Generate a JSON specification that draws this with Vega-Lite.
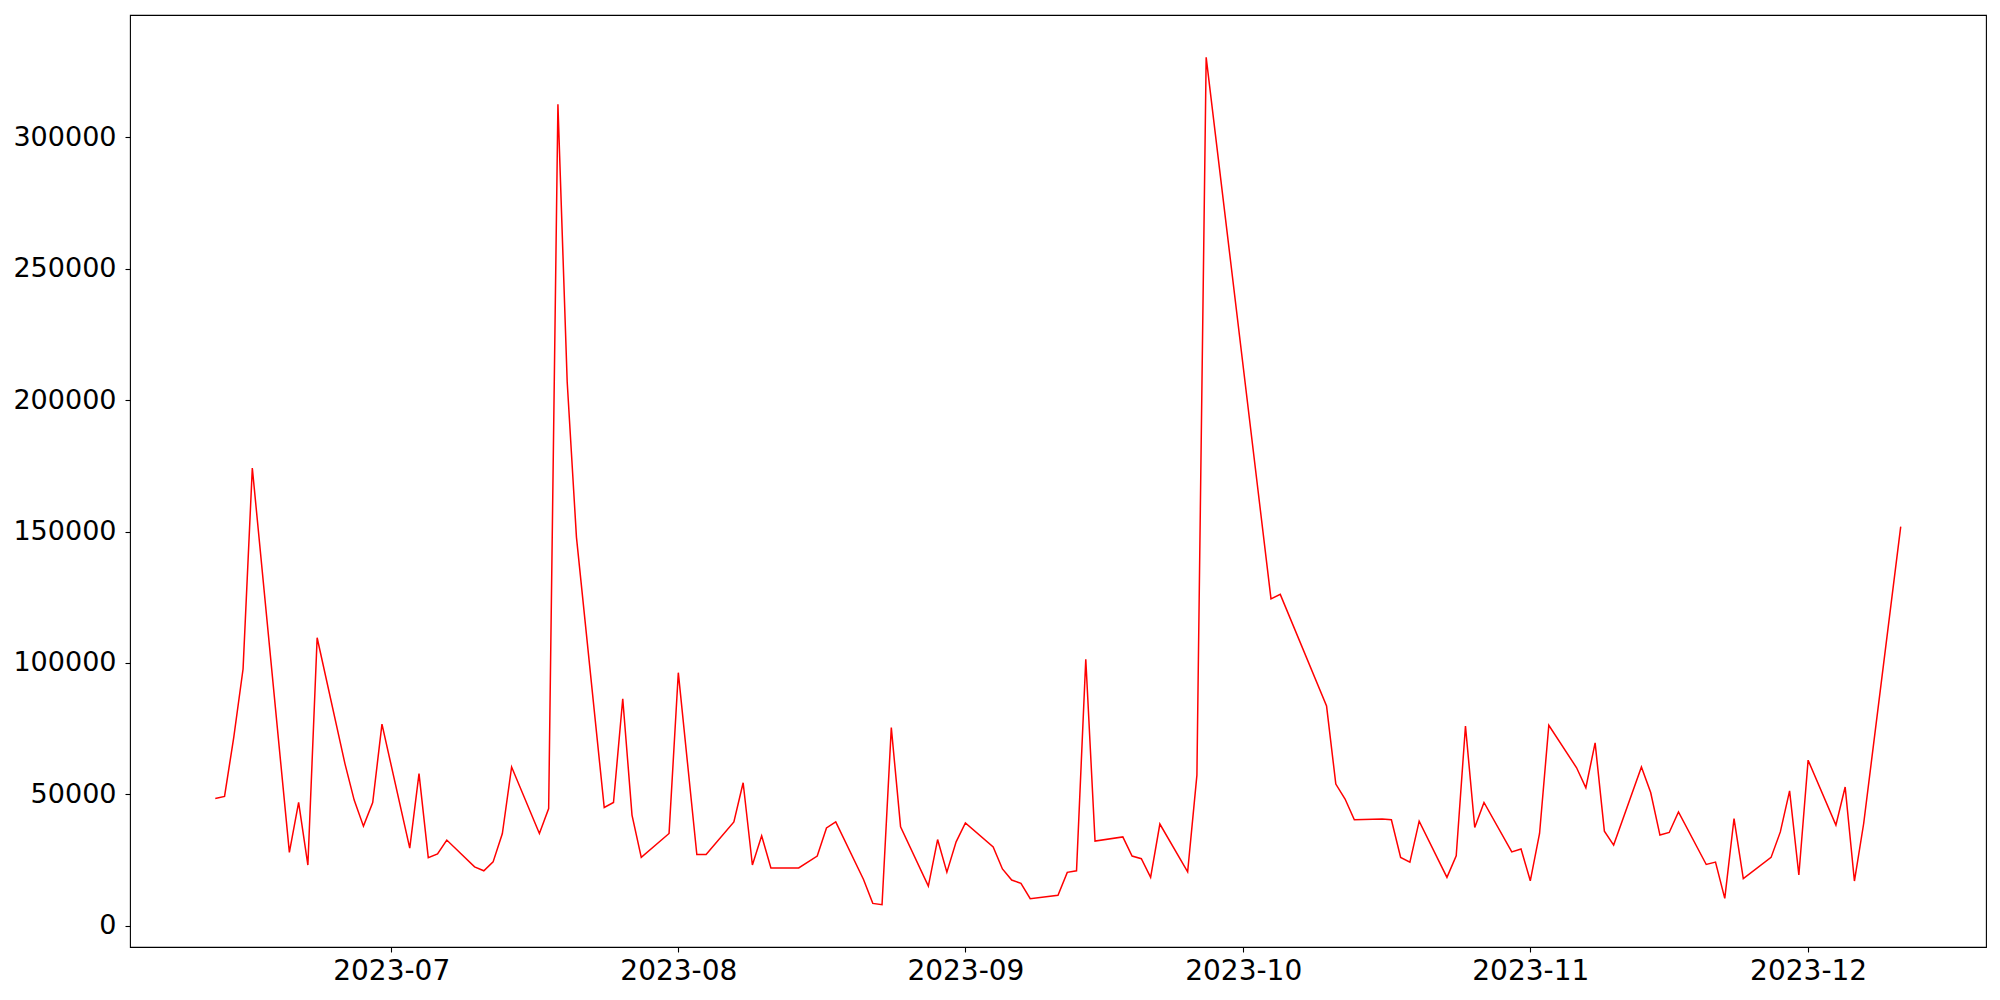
{
  "$schema": "https://vega.github.io/schema/vega-lite/v6.json",
  "width": 1856,
  "height": 932,
  "autosize": {"type": "none"},
  "padding": {"left": 130, "top": 15, "right": 14, "bottom": 53},
  "background": "white",
  "config": {
    "view": {"stroke": "black", "strokeWidth": 1.1},
    "axis": {
      "grid": false,
      "domain": false,
      "tickColor": "black",
      "tickWidth": 1.1,
      "tickSize": 5,
      "labelPadding": 5,
      "labelFont": "DejaVu Sans",
      "labelFontSize": 28,
      "labelColor": "black",
      "title": null
    }
  },
  "data": {
    "values": [
      {"date": "2023-06-12", "value": 48400},
      {"date": "2023-06-13", "value": 49200},
      {"date": "2023-06-14", "value": 71800},
      {"date": "2023-06-15", "value": 97700},
      {"date": "2023-06-16", "value": 174200},
      {"date": "2023-06-20", "value": 27900},
      {"date": "2023-06-21", "value": 46900},
      {"date": "2023-06-22", "value": 23100},
      {"date": "2023-06-23", "value": 109600},
      {"date": "2023-06-26", "value": 61700},
      {"date": "2023-06-27", "value": 47800},
      {"date": "2023-06-28", "value": 37900},
      {"date": "2023-06-29", "value": 46900},
      {"date": "2023-06-30", "value": 76700},
      {"date": "2023-07-03", "value": 29500},
      {"date": "2023-07-04", "value": 57900},
      {"date": "2023-07-05", "value": 25900},
      {"date": "2023-07-06", "value": 27300},
      {"date": "2023-07-07", "value": 32600},
      {"date": "2023-07-10", "value": 22400},
      {"date": "2023-07-11", "value": 20900},
      {"date": "2023-07-12", "value": 24300},
      {"date": "2023-07-13", "value": 35100},
      {"date": "2023-07-14", "value": 60400},
      {"date": "2023-07-17", "value": 35100},
      {"date": "2023-07-18", "value": 44600},
      {"date": "2023-07-19", "value": 312600},
      {"date": "2023-07-20", "value": 207000},
      {"date": "2023-07-21", "value": 147900},
      {"date": "2023-07-24", "value": 45000},
      {"date": "2023-07-25", "value": 46900},
      {"date": "2023-07-26", "value": 86400},
      {"date": "2023-07-27", "value": 42100},
      {"date": "2023-07-28", "value": 26000},
      {"date": "2023-07-31", "value": 35100},
      {"date": "2023-08-01", "value": 96300},
      {"date": "2023-08-03", "value": 27100},
      {"date": "2023-08-04", "value": 27100},
      {"date": "2023-08-07", "value": 39500},
      {"date": "2023-08-08", "value": 54400},
      {"date": "2023-08-09", "value": 23100},
      {"date": "2023-08-10", "value": 34200},
      {"date": "2023-08-11", "value": 22000},
      {"date": "2023-08-14", "value": 22000},
      {"date": "2023-08-16", "value": 26500},
      {"date": "2023-08-17", "value": 37200},
      {"date": "2023-08-18", "value": 39500},
      {"date": "2023-08-21", "value": 17600},
      {"date": "2023-08-22", "value": 8500},
      {"date": "2023-08-23", "value": 8000},
      {"date": "2023-08-24", "value": 75400},
      {"date": "2023-08-25", "value": 37600},
      {"date": "2023-08-28", "value": 15100},
      {"date": "2023-08-29", "value": 32800},
      {"date": "2023-08-30", "value": 20400},
      {"date": "2023-08-31", "value": 31900},
      {"date": "2023-09-01", "value": 39100},
      {"date": "2023-09-04", "value": 30000},
      {"date": "2023-09-05", "value": 21600},
      {"date": "2023-09-06", "value": 17400},
      {"date": "2023-09-07", "value": 16100},
      {"date": "2023-09-08", "value": 10300},
      {"date": "2023-09-11", "value": 11600},
      {"date": "2023-09-12", "value": 20300},
      {"date": "2023-09-13", "value": 20900},
      {"date": "2023-09-14", "value": 101400},
      {"date": "2023-09-15", "value": 32200},
      {"date": "2023-09-18", "value": 33800},
      {"date": "2023-09-19", "value": 26500},
      {"date": "2023-09-20", "value": 25500},
      {"date": "2023-09-21", "value": 18400},
      {"date": "2023-09-22", "value": 38700},
      {"date": "2023-09-25", "value": 20500},
      {"date": "2023-09-26", "value": 57300},
      {"date": "2023-09-27", "value": 330500},
      {"date": "2023-10-04", "value": 124400},
      {"date": "2023-10-05", "value": 126100},
      {"date": "2023-10-10", "value": 83600},
      {"date": "2023-10-11", "value": 53900},
      {"date": "2023-10-12", "value": 48200},
      {"date": "2023-10-13", "value": 40300},
      {"date": "2023-10-16", "value": 40600},
      {"date": "2023-10-17", "value": 40300},
      {"date": "2023-10-18", "value": 26000},
      {"date": "2023-10-19", "value": 24200},
      {"date": "2023-10-20", "value": 39800},
      {"date": "2023-10-23", "value": 18400},
      {"date": "2023-10-24", "value": 26600},
      {"date": "2023-10-25", "value": 76000},
      {"date": "2023-10-26", "value": 37400},
      {"date": "2023-10-27", "value": 46900},
      {"date": "2023-10-30", "value": 28100},
      {"date": "2023-10-31", "value": 29200},
      {"date": "2023-11-01", "value": 17100},
      {"date": "2023-11-02", "value": 35100},
      {"date": "2023-11-03", "value": 76300},
      {"date": "2023-11-06", "value": 60100},
      {"date": "2023-11-07", "value": 52500},
      {"date": "2023-11-08", "value": 69600},
      {"date": "2023-11-09", "value": 36000},
      {"date": "2023-11-10", "value": 30700},
      {"date": "2023-11-13", "value": 60400},
      {"date": "2023-11-14", "value": 50700},
      {"date": "2023-11-15", "value": 34500},
      {"date": "2023-11-16", "value": 35500},
      {"date": "2023-11-17", "value": 43300},
      {"date": "2023-11-20", "value": 23300},
      {"date": "2023-11-21", "value": 24200},
      {"date": "2023-11-22", "value": 10400},
      {"date": "2023-11-23", "value": 40800},
      {"date": "2023-11-24", "value": 17900},
      {"date": "2023-11-27", "value": 26000},
      {"date": "2023-11-28", "value": 35700},
      {"date": "2023-11-29", "value": 51300},
      {"date": "2023-11-30", "value": 19300},
      {"date": "2023-12-01", "value": 63000},
      {"date": "2023-12-04", "value": 38300},
      {"date": "2023-12-05", "value": 52800},
      {"date": "2023-12-06", "value": 17000},
      {"date": "2023-12-07", "value": 38900},
      {"date": "2023-12-11", "value": 151900}
    ]
  },
  "mark": {"type": "line", "color": "red", "strokeWidth": 1.5, "clip": true},
  "encoding": {
    "x": {
      "field": "date",
      "type": "temporal",
      "scale": {
        "type": "utc",
        "domain": [
          {"year": 2023, "month": 6, "date": 2, "hours": 19, "utc": true},
          {"year": 2023, "month": 12, "date": 20, "hours": 5, "utc": true}
        ],
        "nice": false
      },
      "axis": {
        "format": "%Y-%m",
        "labelAngle": 0,
        "labelFlush": false,
        "labelOverlap": false,
        "labelPadding": 5,
        "values": [
          {"year": 2023, "month": 7, "date": 1, "utc": true},
          {"year": 2023, "month": 8, "date": 1, "utc": true},
          {"year": 2023, "month": 9, "date": 1, "utc": true},
          {"year": 2023, "month": 10, "date": 1, "utc": true},
          {"year": 2023, "month": 11, "date": 1, "utc": true},
          {"year": 2023, "month": 12, "date": 1, "utc": true}
        ]
      }
    },
    "y": {
      "field": "value",
      "type": "quantitative",
      "scale": {"domain": [-8100, 346600], "nice": false, "zero": false},
      "axis": {
        "format": "d",
        "labelFontSize": 27,
        "labelPadding": 9,
        "values": [0, 50000, 100000, 150000, 200000, 250000, 300000],
        "labelOverlap": false
      }
    }
  }
}
